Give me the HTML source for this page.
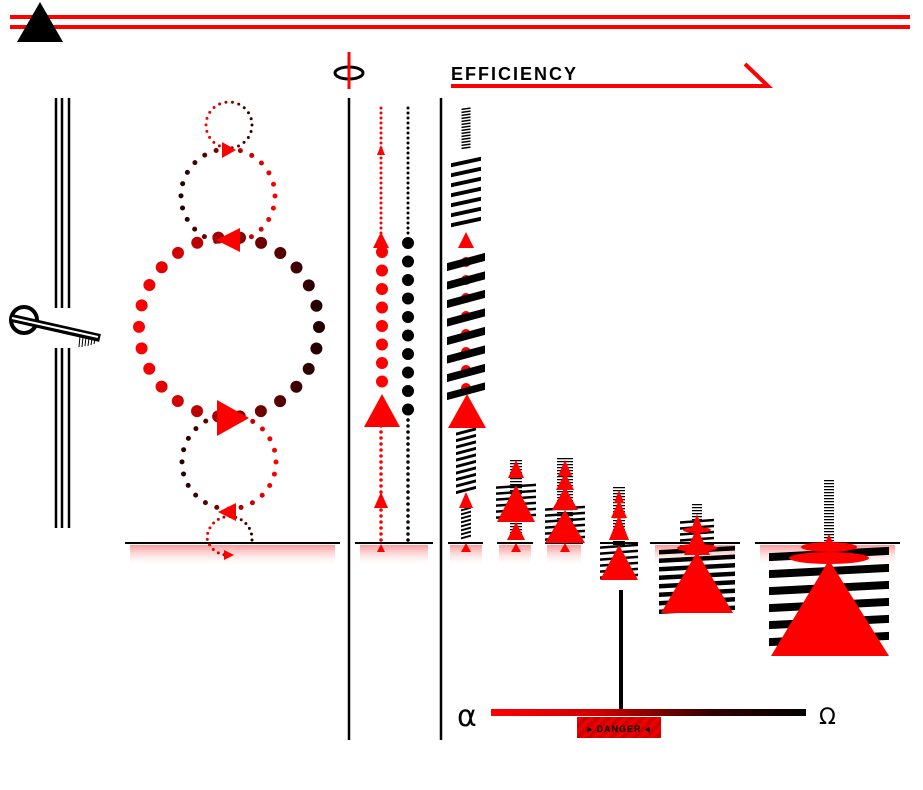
<!DOCTYPE html>
<html><head><meta charset="utf-8"><style>html,body{margin:0;padding:0;background:#fff}svg{display:block}</style></head>
<body>
<svg width="923" height="790" viewBox="0 0 923 790" xmlns="http://www.w3.org/2000/svg">
<defs>
<linearGradient id="pk" x1="0" y1="0" x2="0" y2="1"><stop offset="0" stop-color="#f99"/><stop offset="1" stop-color="#fff" stop-opacity="0"/></linearGradient>
<linearGradient id="bar" x1="0" y1="0" x2="1" y2="0"><stop offset="0" stop-color="#f00"/><stop offset="0.35" stop-color="#c00"/><stop offset="0.7" stop-color="#300"/><stop offset="1" stop-color="#000"/></linearGradient>
<linearGradient id="rg" x1="0" y1="0" x2="1" y2="0"><stop offset="0" stop-color="#f00"/><stop offset="0.5" stop-color="#900"/><stop offset="1" stop-color="#200"/></linearGradient>
<linearGradient id="rg2" x1="0" y1="0" x2="1" y2="0"><stop offset="0" stop-color="#200"/><stop offset="1" stop-color="#f00"/></linearGradient>
<pattern id="hz" width="8" height="8" patternUnits="userSpaceOnUse" patternTransform="rotate(45)"><rect width="8" height="8" fill="#e00"/><rect width="4" height="8" fill="#c00"/></pattern>
</defs>
<rect x="10" y="15" width="900" height="4" fill="#f00"/>
<rect x="10" y="25" width="900" height="4" fill="#f00"/>
<polygon points="40,2 17,42 63,42" fill="#000"/>
<g stroke="#000" stroke-width="2.5">
<line x1="56" y1="98" x2="56" y2="308"/><line x1="62" y1="98" x2="62" y2="308"/><line x1="69" y1="98" x2="69" y2="308"/>
<line x1="56" y1="348" x2="56" y2="528"/><line x1="62" y1="348" x2="62" y2="528"/><line x1="69" y1="348" x2="69" y2="528"/>
</g>
<circle cx="24" cy="320" r="13" fill="#fff" stroke="#000" stroke-width="4"/>
<line x1="12" y1="318" x2="100" y2="338" stroke="#000" stroke-width="8"/>
<line x1="12" y1="318" x2="98" y2="337" stroke="#fff" stroke-width="2"/>
<g stroke="#000" stroke-width="1"><line x1="80" y1="336" x2="79" y2="347"/><line x1="83" y1="337" x2="82" y2="347"/><line x1="86" y1="337" x2="85" y2="346"/><line x1="89" y1="338" x2="88" y2="346"/><line x1="92" y1="339" x2="91" y2="345"/><line x1="95" y1="339" x2="94" y2="344"/></g>
<line x1="349" y1="98" x2="349" y2="740" stroke="#000" stroke-width="2.5"/>
<line x1="441" y1="98" x2="441" y2="740" stroke="#000" stroke-width="2.5"/>
<ellipse cx="349" cy="73" rx="14" ry="6" fill="none" stroke="#000" stroke-width="3"/>
<line x1="349" y1="52" x2="349" y2="89" stroke="#f00" stroke-width="3"/>
<text x="451" y="80" font-family="Liberation Sans, sans-serif" font-weight="bold" font-size="18" letter-spacing="2" fill="#000">EFFICIENCY</text>
<polyline points="451,86 768,86 745,64" fill="none" stroke="#f00" stroke-width="4"/>

<g fill="url(#pk)">
<rect x="130" y="545" width="205" height="22"/><rect x="360" y="545" width="68" height="22"/><rect x="450" y="545" width="32" height="22"/><rect x="499" y="545" width="32" height="22"/><rect x="547" y="545" width="34" height="22"/><rect x="655" y="545" width="80" height="22"/><rect x="760" y="545" width="135" height="22"/>
</g>
<g stroke="#000" stroke-width="2">
<line x1="125" y1="543" x2="340" y2="543"/><line x1="355" y1="543" x2="433" y2="543"/><line x1="448" y1="543" x2="483" y2="543"/><line x1="497" y1="543" x2="533" y2="543"/><line x1="545" y1="543" x2="583" y2="543"/><line x1="600" y1="543" x2="638" y2="543"/><line x1="650" y1="543" x2="740" y2="543"/><line x1="755" y1="543" x2="900" y2="543"/>
</g>

<g fill="none" stroke-linecap="round">
<circle cx="229" cy="125" r="23" stroke="url(#rg)" stroke-width="3" stroke-dasharray="0 6.57"/>
<circle cx="228" cy="196" r="47" stroke="url(#rg2)" stroke-width="5" stroke-dasharray="0 12.3"/>
<circle cx="229" cy="327" r="90" stroke="url(#rg)" stroke-width="12" stroke-dasharray="0 21.75"/>
<circle cx="229" cy="462" r="47" stroke="url(#rg2)" stroke-width="5" stroke-dasharray="0 12.3"/>
<path d="M252,540 A22,22 0 1 0 207,538 Q210,552 225,555" stroke="url(#rg)" stroke-width="3" stroke-dasharray="0 6"/>
</g>
<g fill="#f00">
<polygon points="236,150 222,142 222,158"/>
<polygon points="216,240 240,228 240,252"/>
<polygon points="249,418 217,400 217,436"/>
<polygon points="218,512 236,503 236,521"/>
<polygon points="234,555 224,550 224,560"/>
</g>

<g stroke-linecap="round" fill="none">
<line x1="381" y1="108" x2="381" y2="238" stroke="#f00" stroke-width="3" stroke-dasharray="0 5"/>
<line x1="381" y1="420" x2="381" y2="543" stroke="#f00" stroke-width="3.5" stroke-dasharray="0 6"/>
<line x1="408" y1="108" x2="408" y2="238" stroke="#000" stroke-width="3" stroke-dasharray="0 5"/>
<line x1="408" y1="420" x2="408" y2="543" stroke="#000" stroke-width="3.5" stroke-dasharray="0 6"/>
<line x1="382" y1="252" x2="382" y2="400" stroke="#f00" stroke-width="12" stroke-dasharray="0 18.5"/>
<line x1="408" y1="243" x2="408" y2="410" stroke="#000" stroke-width="12" stroke-dasharray="0 18.5"/>
</g>
<g fill="#f00">
<polygon points="381,145 377,155 385,155"/>
<polygon points="381,232 373,248 389,248"/>
<polygon points="382,394 364,427 400,427"/>
<polygon points="381,492 374,508 388,508"/>
<polygon points="381,544 377,552 385,552"/>
</g>

<line x1="466" y1="262" x2="466" y2="392" stroke="#f00" stroke-width="10" stroke-linecap="round" stroke-dasharray="0 18"/>
<g stroke="#000" fill="none">
<g transform="translate(466,0) skewY(-8)"><line x1="0" y1="108" x2="0" y2="150" stroke-width="9" stroke-dasharray="1.5 1.5"/></g>
<g transform="translate(466,0) skewY(-12)"><line x1="0" y1="160" x2="0" y2="230" stroke-width="30" stroke-dasharray="4 6"/></g>
<g transform="translate(466,0) skewY(-15)"><line x1="0" y1="258" x2="0" y2="395" stroke-width="38" stroke-dasharray="8 10.5"/></g>
<g transform="translate(466,0) skewY(-15)"><line x1="0" y1="430" x2="0" y2="492" stroke-width="20" stroke-dasharray="3 3.5"/></g>
<g transform="translate(466,0) skewY(-15)"><line x1="0" y1="508" x2="0" y2="540" stroke-width="10" stroke-dasharray="2 2"/></g>
</g>
<g fill="#f00">
<polygon points="466,232 458,248 474,248"/>
<polygon points="467,394 448,428 486,428"/>
<polygon points="466,492 459,508 473,508"/>
<polygon points="466,543 461,552 471,552"/>
</g>

<g stroke="#000" fill="none">
<line x1="516" y1="460" x2="516" y2="540" stroke-width="12" stroke-dasharray="1.2 1.8"/>
<g transform="translate(516,0) skewY(-4)"><line x1="0" y1="485" x2="0" y2="520" stroke-width="40" stroke-dasharray="2.5 3.5"/></g>
<line x1="565" y1="458" x2="565" y2="540" stroke-width="16" stroke-dasharray="1.2 1.8"/>
<g transform="translate(565,0) skewY(-4)"><line x1="0" y1="507" x2="0" y2="542" stroke-width="40" stroke-dasharray="2.5 3.5"/></g>
<line x1="619" y1="487" x2="619" y2="545" stroke-width="12" stroke-dasharray="1.2 1.8"/>
<g transform="translate(619,0) skewY(-4)"><line x1="0" y1="545" x2="0" y2="580" stroke-width="38" stroke-dasharray="2.5 3.5"/></g>
<line x1="697" y1="504" x2="697" y2="522" stroke-width="10" stroke-dasharray="1.2 1.8"/>
<g transform="translate(697,0) skewY(-4)"><line x1="0" y1="520" x2="0" y2="548" stroke-width="34" stroke-dasharray="2.5 3.5"/></g>
<g transform="translate(697,0) skewY(-3)"><line x1="0" y1="548" x2="0" y2="612" stroke-width="76" stroke-dasharray="4.5 4"/></g>
<line x1="829" y1="480" x2="829" y2="545" stroke-width="10" stroke-dasharray="1.2 1.8"/>
<g transform="translate(829,0) skewY(-3)"><line x1="0" y1="550" x2="0" y2="652" stroke="#000" stroke-width="120" stroke-dasharray="8 9"/></g>
</g>
<g fill="#f00">
<polygon points="516,460 508,478 524,478"/>
<polygon points="516,485 497,522 535,522"/>
<polygon points="516,522 507,540 525,540"/>
<polygon points="516,543 511,552 521,552"/>
<polygon points="565,460 558,476 572,476"/>
<polygon points="565,473 556,490 574,490"/>
<polygon points="565,487 552,510 578,510"/>
<polygon points="565,510 545,543 585,543"/>
<polygon points="565,543 560,552 570,552"/>
<polygon points="619,490 614,503 624,503"/>
<polygon points="619,500 611,518 627,518"/>
<polygon points="619,515 609,540 629,540"/>
<polygon points="619,545 600,580 638,580"/>
<polygon points="697,514 691,530 703,530"/>
<polygon points="697,528 684,555 710,555"/>
<polygon points="697,552 661,613 733,613"/>
<ellipse cx="697" cy="548" rx="20" ry="4"/>
<ellipse cx="697" cy="530" rx="14" ry="3"/>
<ellipse cx="829" cy="547" rx="28" ry="5"/>
<ellipse cx="829" cy="558" rx="40" ry="6"/>
<polygon points="829,560 771,656 889,656"/>
<polygon points="829,534 825,543 833,543"/>
</g>

<line x1="621" y1="590" x2="621" y2="713" stroke="#000" stroke-width="4"/>
<text x="457" y="726" font-family="DejaVu Sans, sans-serif" font-size="30" fill="#000">α</text>
<rect x="491" y="709" width="315" height="7" fill="url(#bar)"/>
<text x="819" y="724" font-family="DejaVu Sans, sans-serif" font-size="22" fill="#000">Ω</text>
<rect x="577" y="717" width="84" height="21" fill="url(#hz)"/>
<text x="619" y="732" text-anchor="middle" font-family="Liberation Sans, sans-serif" font-weight="bold" font-size="9" letter-spacing="1" fill="#000">▸ DANGER ◂</text>
</svg>
</body></html>
